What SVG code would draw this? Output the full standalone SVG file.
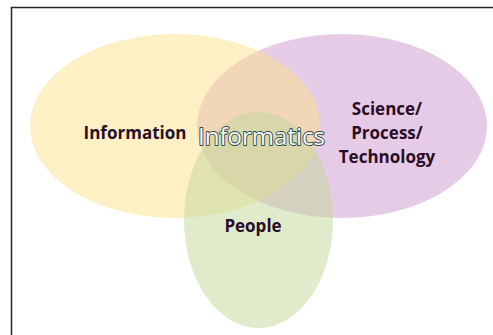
<svg xmlns="http://www.w3.org/2000/svg" width="493" height="335" viewBox="0 0 493 335">
<style>
.lbl{font-family:"Open Sans","Liberation Sans",sans-serif;font-weight:bold;font-size:17px;fill:#2a0e27;text-anchor:middle}
.core{font-family:"Open Sans","Liberation Sans",sans-serif;font-size:24px;fill:#f6f9f9;stroke:#2f4a4a;stroke-width:1.8;stroke-linejoin:round;text-anchor:middle;paint-order:stroke}
.set{opacity:0.5}
</style>
<rect width="493" height="335" fill="#ffffff"/>
<path d="M11.5,335 V7.5 H493" fill="none" stroke="#262626" stroke-width="1.5"/>
<g id="science">
<ellipse class="set" cx="342" cy="126" rx="145" ry="92" fill="#cd97cd"/>
</g>
<g id="information">
<ellipse class="set" cx="175" cy="126" rx="145" ry="92" fill="#fbe189"/>
</g>
<g id="people">
<ellipse class="set" cx="258.5" cy="220" rx="74.5" ry="108" fill="#c1d799"/>
</g>
<g id="connectors"></g>
<g id="labels">
<text class="lbl" x="135" y="139">Information</text>
<text class="core" x="261.5" y="145">Informatics</text>
<text class="lbl" x="387" y="115">Science/</text>
<text class="lbl" x="387" y="139">Process/</text>
<text class="lbl" x="387" y="163">Technology</text>
<text class="lbl" x="253" y="232">People</text>
</g>
</svg>
